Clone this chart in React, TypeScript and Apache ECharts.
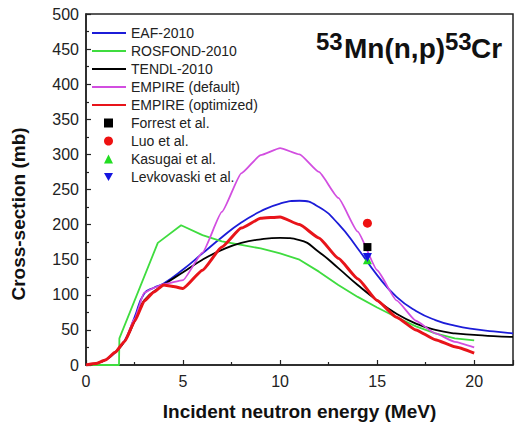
import React, { useEffect, useRef } from "react";
import * as echarts from "echarts";

// ---- Data ----
const eafE = [0, 0.5, 1, 1.5, 2, 2.5, 3, 3.5, 4, 5, 6, 7, 8, 9, 10, 11, 12, 13, 14, 15, 16, 17, 18, 19, 20, 21, 22];
const eafV = [0, 2, 7, 18, 35, 68, 102, 110, 116, 136, 159, 182, 203, 219, 230, 234, 225, 201, 166, 128, 97, 77, 64, 56, 51, 48, 45];

const rosE = [0, 1.7, 1.72, 3.7, 4.9, 6, 7, 8, 9, 10, 11, 12, 13, 14, 15, 16, 17, 18, 19, 20];
const rosV = [0, 0, 38, 174, 199, 185, 176, 171, 166, 159, 150, 133, 114, 97, 82, 68, 55, 45, 38, 35];

const tenE = [0, 0.5, 1, 1.5, 2, 2.5, 3, 4, 5, 6, 7, 8, 9, 10, 11, 12, 13, 14, 15, 16, 17, 18, 19, 20, 21, 22];
const tenV = [0, 2, 7, 18, 34, 62, 92, 114, 132, 150, 164, 174, 179, 181, 178, 161, 138, 114, 92, 73, 59, 50, 45, 43, 41, 40];

const empDefE = [0, 0.5, 1, 1.5, 2, 2.5, 3, 3.5, 4, 5, 6, 7, 8, 9, 10, 11, 12, 13, 14, 15, 16, 17, 18, 19, 20];
const empDefV = [0, 2, 7, 18, 34, 66, 103, 110, 115, 121, 160, 218, 273, 299, 309, 300, 275, 238, 190, 135, 92, 63, 45, 33, 25];

const empOptE = [0, 0.5, 1, 1.5, 2, 2.5, 3, 3.5, 4, 4.5, 5, 6, 7, 8, 9, 10, 11, 12, 13, 14, 15, 16, 17, 18, 19, 20];
const empOptV = [0, 2, 7, 18, 34, 62, 91, 104, 114, 112, 109, 135, 168, 195, 209, 211, 200, 181, 152, 123, 92, 68, 50, 36, 26, 17];

const expE = 14.5;
const forrestV = 168;
const luoV = 202;
const kasugaiV = 150;
const levkovaskiV = 153;

const xTicks = [0, 5, 10, 15, 20];

const lineNames = ["EAF-2010", "ROSFOND-2010", "TENDL-2010", "EMPIRE (default)", "EMPIRE (optimized)"];
const pointNames = ["Forrest et al.", "Luo et al.", "Kasugai et al.", "Levkovaski et al."];

const pairs = (xs: number[], ys: number[]) => xs.map((x, i) => [x, ys[i]]);

const FONT = "'Liberation Sans', Arial, sans-serif";

export default function App() {
  const ref = useRef<HTMLDivElement>(null);
  useEffect(() => {
    if (!ref.current) return;
    const chart = echarts.init(ref.current, undefined, { renderer: "svg" });
    const lineW = 1.8;
    const legendText = { fontSize: 14, color: "#222", fontFamily: FONT };
    chart.setOption({
      animation: false,
      backgroundColor: "#ffffff",
      textStyle: { fontFamily: FONT },
      grid: {
        left: 86,
        top: 14,
        width: 433,
        height: 351,
        show: true,
        borderColor: "#222",
        borderWidth: 1.5,
      },
      legend: [
        {
          orient: "vertical",
          left: 91,
          top: 26,
          padding: 0,
          itemWidth: 34,
          itemHeight: 9,
          itemGap: 4,
          textStyle: legendText,
          data: lineNames.map((n) => ({ name: n, itemStyle: { opacity: 0 } })),
        },
        {
          orient: "vertical",
          left: 104,
          top: 116,
          padding: 0,
          itemWidth: 9,
          itemHeight: 9,
          itemGap: 4,
          textStyle: { ...legendText, padding: [0, 0, 0, 13] },
          data: pointNames.map((n, i) =>
            i === 3 ? { name: n, icon: "path://M0,0 L10,0 L5,9 Z" } : { name: n }
          ),
        },
      ],
      xAxis: {
        type: "value",
        min: 0,
        max: 22,
        interval: 5,
        name: "Incident neutron energy (MeV)",
        nameLocation: "middle",
        nameGap: 37,
        nameTextStyle: { fontSize: 19, fontWeight: "bold", color: "#111", fontFamily: FONT },
        axisLine: { lineStyle: { color: "#222", width: 1.5 } },
        axisTick: { inside: true, length: 5, lineStyle: { color: "#222", width: 1.2 } },
        minorTick: { show: true, splitNumber: 2, length: 3, lineStyle: { color: "#222", width: 1.2 } },
        splitLine: { show: false },
        axisLabel: {
          fontSize: 16,
          color: "#222",
          margin: 8,
          fontFamily: FONT,
          formatter: (v: number) => (xTicks.includes(v) ? String(v) : ""),
        },
      },
      yAxis: {
        type: "value",
        min: 0,
        max: 500,
        interval: 50,
        axisLine: { show: true, lineStyle: { color: "#222", width: 1.5 } },
        axisTick: { show: true, inside: true, length: 5, lineStyle: { color: "#222", width: 1.2 } },
        minorTick: { show: true, splitNumber: 2, length: 3, lineStyle: { color: "#222", width: 1.2 } },
        splitLine: { show: false },
        axisLabel: { fontSize: 16, color: "#222", margin: 7, fontFamily: FONT },
      },
      graphic: [
        {
          type: "text",
          x: 18,
          y: 214,
          rotation: Math.PI / 2,
          style: {
            text: "Cross-section (mb)",
            font: `bold 19px ${FONT}`,
            fill: "#111",
            textAlign: "center",
            textVerticalAlign: "middle",
          },
        },
        {
          type: "text",
          x: 316,
          y: 41,
          style: { text: "53", font: `bold 24px ${FONT}`, fill: "#111", textAlign: "left", textVerticalAlign: "middle" },
        },
        {
          type: "text",
          x: 344,
          y: 48,
          style: { text: "Mn(n,p)", font: `bold 28px ${FONT}`, fill: "#111", textAlign: "left", textVerticalAlign: "middle" },
        },
        {
          type: "text",
          x: 445,
          y: 41,
          style: { text: "53", font: `bold 24px ${FONT}`, fill: "#111", textAlign: "left", textVerticalAlign: "middle" },
        },
        {
          type: "text",
          x: 471,
          y: 48,
          style: { text: "Cr", font: `bold 28px ${FONT}`, fill: "#111", textAlign: "left", textVerticalAlign: "middle" },
        },
      ],
      series: [
        {
          name: "EAF-2010",
          type: "line",
          data: pairs(eafE, eafV),
          symbol: "none",
          smooth: 0.5,
          color: "#1c1cd8",
          lineStyle: { width: lineW, color: "#1c1cd8" },
        },
        {
          name: "ROSFOND-2010",
          type: "line",
          data: pairs(rosE, rosV),
          symbol: "none",
          color: "#3fdc3f",
          lineStyle: { width: lineW, color: "#3fdc3f" },
        },
        {
          name: "TENDL-2010",
          type: "line",
          data: pairs(tenE, tenV),
          symbol: "none",
          smooth: 0.5,
          color: "#000000",
          lineStyle: { width: lineW, color: "#000000" },
        },
        {
          name: "EMPIRE (default)",
          type: "line",
          data: pairs(empDefE, empDefV),
          symbol: "none",
          smooth: 0.15,
          smoothMonotone: "x",
          color: "#d24ee0",
          lineStyle: { width: lineW, color: "#d24ee0" },
        },
        {
          name: "EMPIRE (optimized)",
          type: "line",
          data: pairs(empOptE, empOptV),
          symbol: "none",
          smooth: 0.15,
          smoothMonotone: "x",
          color: "#e8141a",
          lineStyle: { width: 3, color: "#e8141a" },
        },
        {
          name: "Forrest et al.",
          type: "scatter",
          data: [[expE, forrestV]],
          symbol: "rect",
          symbolSize: 8,
          itemStyle: { color: "#000000", opacity: 1 },
          z: 5,
        },
        {
          name: "Luo et al.",
          type: "scatter",
          data: [[expE, luoV]],
          symbol: "circle",
          symbolSize: 9,
          itemStyle: { color: "#ee1111", opacity: 1 },
          z: 5,
        },
        {
          name: "Kasugai et al.",
          type: "scatter",
          data: [[expE, kasugaiV]],
          symbol: "triangle",
          symbolSize: 9,
          itemStyle: { color: "#22dd22", opacity: 1 },
          z: 5,
        },
        {
          name: "Levkovaski et al.",
          type: "scatter",
          data: [[expE, levkovaskiV]],
          symbol: "triangle",
          symbolRotate: 180,
          symbolSize: 9,
          itemStyle: { color: "#1515e0", opacity: 1 },
          z: 6,
        },
      ],
    });
    return () => chart.dispose();
  }, []);
  return <div ref={ref} style={{ width: 516, height: 428, position: "absolute", left: 0, top: 0 }} />;
}
